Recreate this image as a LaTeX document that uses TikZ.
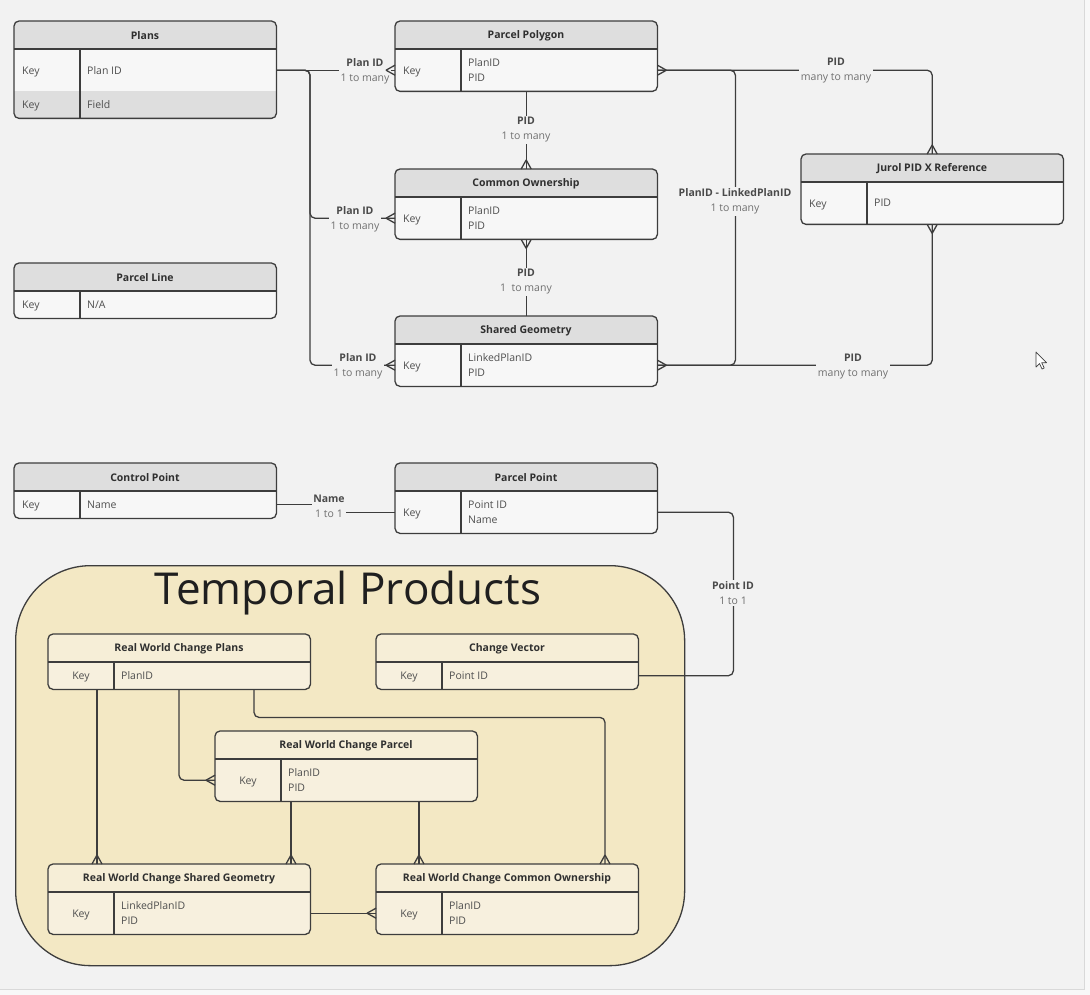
\documentclass[tikz,border=0pt]{standalone}
\usepackage{fontspec}
\setmainfont{Open Sans}
\usetikzlibrary{calc}
\definecolor{bg}{HTML}{F2F2F2}
\definecolor{outbg}{HTML}{F8F8F8}
\definecolor{hdrgray}{HTML}{DEDEDE}
\definecolor{bodygray}{HTML}{F7F7F7}
\definecolor{tanbg}{HTML}{F3E8C4}
\definecolor{tanhdr}{HTML}{F6EED7}
\definecolor{tanbody}{HTML}{F7F0DE}
\definecolor{edge}{HTML}{3D3D3D}
\definecolor{txt}{HTML}{2F2F2F}
\definecolor{fld}{HTML}{4F4F4F}
\definecolor{labdark}{HTML}{4A4A4A}
\definecolor{sub}{HTML}{707070}

\tikzset{
  eline/.style={draw=edge, line width=1.3pt},
  conn/.style={draw=edge, line width=1.3pt, line join=round},
  ttl/.style={font=\fontsize{10.5}{13}\selectfont\bfseries, text=txt, inner sep=0pt},
  fldtxt/.style={font=\fontsize{10.5}{15}\selectfont, text=fld, align=left, anchor=west, inner sep=0pt},
  keyl/.style={font=\fontsize{10.5}{15}\selectfont, text=fld, anchor=west, inner sep=0pt, yshift=-1.5pt},
  keyc/.style={font=\fontsize{10.5}{15}\selectfont, text=fld, inner sep=0pt, yshift=-1.5pt},
  rlab/.style={fill=bg, align=center, inner sep=1.5pt, font=\fontsize{10.5}{15}\selectfont, yshift=-1.5pt},
  crowW/.pic={\draw[conn] (-9,0) -- (0,-5) (-9,0) -- (0,5);},
  crowE/.pic={\draw[conn] (9,0) -- (0,-5) (9,0) -- (0,5);},
  crowN/.pic={\draw[conn] (0,-9) -- (-5,0) (0,-9) -- (5,0);},
  crowS/.pic={\draw[conn] (0,9) -- (-5,0) (0,9) -- (5,0);},
}

% #1 name #2 x #3 y #4 w #5 h #6 title #7 header colour #8 body colour
\newcommand{\ertab}[8]{%
  \path[fill=#8, rounded corners=5pt] (#2,#3) rectangle ({#2+#4},{#3+#5});
  \begin{scope}
    \clip[rounded corners=5pt] (#2,#3) rectangle ({#2+#4},{#3+#5});
    \fill[#7] (#2,#3) rectangle ({#2+#4},{#3+28});
  \end{scope}
  \node[inner sep=0pt, minimum width=#4, minimum height=#5, anchor=north west] (#1) at (#2,#3) {};
  \node[inner sep=0pt, minimum width=#4, minimum height=#5-28, anchor=north west] (#1-b) at (#2,{#3+28}) {};
  \draw[eline, rounded corners=5pt] (#1.north west) rectangle (#1.south east);
  \draw[eline] (#1-b.north west) -- (#1-b.north east);
  \draw[eline] ([xshift=66pt]#1-b.north west) -- ([xshift=66pt]#1-b.south west);
  \node[ttl] (#1-t) at ({#2+#4/2},{#3+14.5}) {#6};
}
\newcommand{\rellab}[4]{\node[rlab] (#1) at (#2) {{\bfseries\color{labdark}#3}\\{\color{sub}#4}};}

\begin{document}
\begin{tikzpicture}[x=1pt,y=-1pt]
\useasboundingbox (0,0) rectangle (1090,995);
\fill[outbg] (0,0) rectangle (1090,995);
\fill[bg] (0,0) rectangle (1084,989);
\draw[black!15, line width=1pt] (0,989.5) -- (1084.5,989.5) -- (1084.5,0);

% ---------- Temporal products container ----------
\node[draw=edge, line width=1.3pt, fill=tanbg, rounded corners=75pt, minimum width=669, minimum height=400, anchor=north west, inner sep=0pt] (tp) at (15,565) {};
\node[font=\fontsize{44}{50}\selectfont, text=black!88, inner sep=0pt] (tp-t) at (348,593) {Temporal Products};

% ---------- Plans (two rows) ----------
\path[fill=bodygray, rounded corners=5pt] (14,21) rectangle (276,118);
\begin{scope}
  \clip[rounded corners=5pt] (14,21) rectangle (276,118);
  \fill[hdrgray] (14,21) rectangle (276,49);
  \fill[hdrgray] (14,91) rectangle (276,118);
\end{scope}
\node[inner sep=0pt, minimum width=262, minimum height=97, anchor=north west] (pl) at (14,21) {};
\node[inner sep=0pt, minimum width=262, minimum height=42, anchor=north west] (pl-r1) at (14,49) {};
\node[inner sep=0pt, minimum width=262, minimum height=27, anchor=north west] (pl-r2) at (14,91) {};
\draw[eline, rounded corners=5pt] (pl.north west) rectangle (pl.south east);
\draw[eline] (pl-r1.north west) -- (pl-r1.north east);
\draw[eline] ([xshift=66pt]pl-r1.north west) -- ([xshift=66pt]pl-r2.south west);
\node[ttl] (pl-t) at (145,35.5) {Plans};
\node[keyl] (pl-k1) at ([xshift=8pt]pl-r1.west) {Key};
\node[fldtxt] (pl-f1) at ([xshift=73pt]pl-r1.west) {Plan ID};
\node[keyl] (pl-k2) at ([xshift=8pt]pl-r2.west) {Key};
\node[fldtxt] (pl-f2) at ([xshift=73pt]pl-r2.west) {Field};

% ---------- other tables ----------
\ertab{pp}{395}{21}{262}{70}{Parcel Polygon}{hdrgray}{bodygray}
\ertab{co}{395}{169}{262}{70}{Common Ownership}{hdrgray}{bodygray}
\ertab{sg}{395}{316}{262}{70}{Shared Geometry}{hdrgray}{bodygray}
\ertab{jr}{801}{154}{262}{70}{Jurol PID X Reference}{hdrgray}{bodygray}
\ertab{pli}{14}{263}{262}{55}{Parcel Line}{hdrgray}{bodygray}
\ertab{cp}{14}{463}{262}{55}{Control Point}{hdrgray}{bodygray}
\ertab{ppt}{395}{463}{262}{70}{Parcel Point}{hdrgray}{bodygray}
\ertab{rp}{48}{634}{262}{55}{Real World Change Plans}{tanhdr}{tanbody}
\ertab{cv}{376}{634}{262}{55}{Change Vector}{tanhdr}{tanbody}
\ertab{rpa}{215}{731}{262}{70}{Real World Change Parcel}{tanhdr}{tanbody}
\ertab{rsg}{48}{864}{262}{70}{Real World Change Shared Geometry}{tanhdr}{tanbody}
\ertab{rco}{376}{864}{262}{70}{Real World Change Common Ownership}{tanhdr}{tanbody}

\foreach \n in {pp,co,sg,jr,pli,cp,ppt}{\node[keyl] (\n-k) at ([xshift=8pt]\n-b.west) {Key};}
\foreach \n in {rp,cv,rpa,rsg,rco}{\node[keyc] (\n-k) at ([xshift=33pt]\n-b.west) {Key};}
\node[fldtxt] (pp-f) at ([xshift=73pt]pp-b.west) {PlanID\\PID};
\node[fldtxt] (co-f) at ([xshift=73pt]co-b.west) {PlanID\\PID};
\node[fldtxt] (sg-f) at ([xshift=73pt]sg-b.west) {LinkedPlanID\\PID};
\node[fldtxt] (jr-f) at ([xshift=73pt]jr-b.west) {PID};
\node[fldtxt] (pli-f) at ([xshift=73pt]pli-b.west) {N/A};
\node[fldtxt] (cp-f) at ([xshift=73pt]cp-b.west) {Name};
\node[fldtxt] (ppt-f) at ([xshift=73pt]ppt-b.west) {Point ID\\Name};
\node[fldtxt] (rp-f) at ([xshift=73pt]rp-b.west) {PlanID};
\node[fldtxt] (cv-f) at ([xshift=73pt]cv-b.west) {Point ID};
\node[fldtxt] (rpa-f) at ([xshift=73pt]rpa-b.west) {PlanID\\PID};
\node[fldtxt] (rsg-f) at ([xshift=73pt]rsg-b.west) {LinkedPlanID\\PID};
\node[fldtxt] (rco-f) at ([xshift=73pt]rco-b.west) {PlanID\\PID};

% ---------- connectors ----------
\draw[conn] (pl-r1.east) -- (pp-b.west);
\draw[conn, rounded corners=5pt] (pl-r1.east) -| ([xshift=-85pt]co-b.west) -- (co-b.west);
\draw[conn, rounded corners=5pt] (pl-r1.east) -| ([xshift=-85pt]sg-b.west) -- (sg-b.west);
\draw[conn] (pp-b.south) -- (co.north);
\draw[conn] (co.south) -- (sg.north);
\draw[conn, rounded corners=5pt] (pp-b.east) -| (jr.north);
\draw[conn, rounded corners=5pt] (sg-b.east) -| (jr.south);
\draw[conn, rounded corners=5pt] (pp-b.east) -| ([xshift=78pt]sg-b.east) -- (sg-b.east);
\draw[conn] (cp-b.east) -- ++(53,0) |- (ppt-b.west);
\draw[conn, rounded corners=5pt] (ppt-b.east) -| ([xshift=95pt]cv-b.east) -- (cv-b.east);

\draw[conn] ([xshift=49pt]rp-b.south west) -- ([xshift=49pt]rsg.north west);
\draw[conn, rounded corners=5pt] ([xshift=131pt]rp-b.south west) |- (rpa-b.west);
\draw[conn, rounded corners=5pt] ([xshift=206pt]rp-b.south west) -- ++(0,28) -| ([xshift=229pt]rco.north west);
\draw[conn] ([xshift=76pt]rpa-b.south west) -- ([xshift=243pt]rsg.north west);
\draw[conn] ([xshift=204pt]rpa-b.south west) -- ([xshift=43pt]rco.north west);
\draw[conn] (rsg-b.east) -- (rco-b.west);

% ---------- connector labels ----------
\rellab{lab1}{365,69.5}{Plan ID}{1 to many}
\rellab{lab2}{355,217.5}{Plan ID}{1 to many}
\rellab{lab3}{358,365}{Plan ID}{1 to many}
\rellab{lab4}{526,128.5}{PID}{1 to many}
\rellab{lab5}{526,280.5}{PID}{1\ \ to many}
\rellab{lab6}{836,69.5}{PID}{many to many}
\rellab{lab7}{735,200}{PlanID - LinkedPlanID}{1 to many}
\rellab{lab8}{853,365}{PID}{many to many}
\rellab{lab9}{329,504.5}{Name}{1 to 1}
\rellab{lab10}{733,591.5}{Point ID}{1 to 1}

% ---------- crow's feet ----------
\pic at (pp-b.west) {crowW};
\pic at (co-b.west) {crowW};
\pic at (sg-b.west) {crowW};
\pic at (co.north) {crowN};
\pic at (co.south) {crowS};
\pic at (pp-b.east) {crowE};
\pic at (jr.north) {crowN};
\pic at (jr.south) {crowS};
\pic at (sg-b.east) {crowE};
\pic at ([xshift=49pt]rsg.north west) {crowN};
\pic at ([xshift=243pt]rsg.north west) {crowN};
\pic at ([xshift=43pt]rco.north west) {crowN};
\pic at ([xshift=229pt]rco.north west) {crowN};
\pic at (rpa-b.west) {crowW};
\pic at (rco-b.west) {crowW};

% ---------- mouse pointer ----------
\draw[fill=white, draw=black!75, line width=0.7pt, line join=round] (1036,352) -- (1036,367) -- (1039.5,363.5) -- (1042,369) -- (1044.2,368) -- (1041.7,362.7) -- (1046.5,362.7) -- cycle;
\end{tikzpicture}
\end{document}
